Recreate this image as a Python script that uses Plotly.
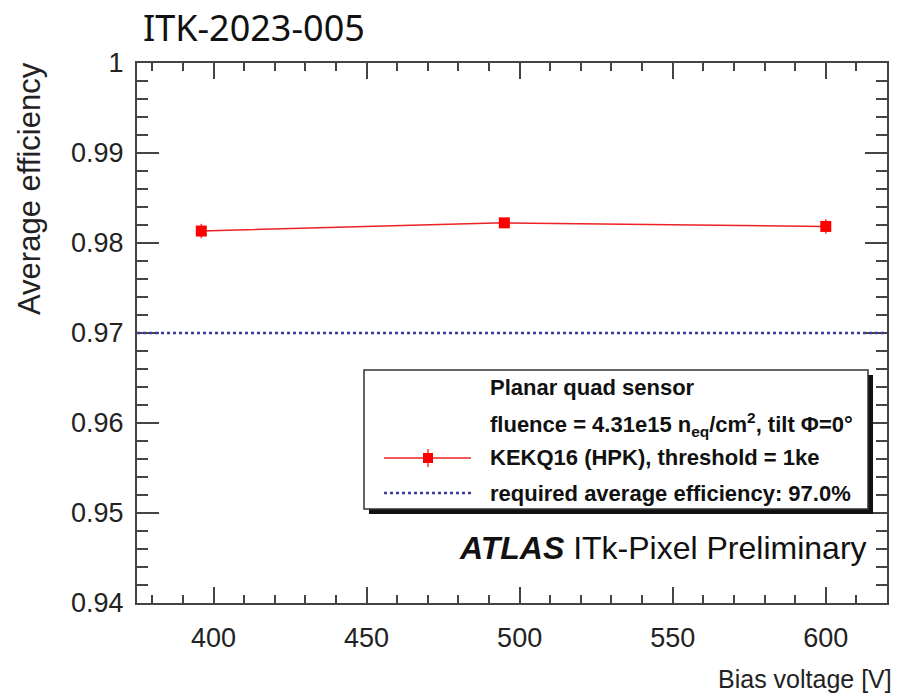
import plotly.graph_objects as go

# ---- data ----
bias_voltage = [396, 495, 600]
avg_efficiency = [0.98133, 0.98224, 0.98184]
eff_error = [0.0008, 0.0005, 0.0008]
required_eff = 0.97

y_tickvals = [0.94, 0.95, 0.96, 0.97, 0.98, 0.99, 1.0]
y_ticktext = ["0.94", "0.95", "0.96", "0.97", "0.98", "0.99", "1"]
x_tickvals = [400, 450, 500, 550, 600]
x_ticktext = ["400", "450", "500", "550", "600"]

FONT = "Liberation Sans, Arial, Helvetica, sans-serif"
W, H = 900, 699
ML, MR, MT, MB = 137, 13, 63, 96
PW, PH = W - ML - MR, H - MT - MB


def px(x):
    return (x - ML) / PW


def py(y):
    return (H - MB - y) / PH


fig = go.Figure()

fig.add_trace(go.Scatter(
    x=bias_voltage, y=avg_efficiency,
    mode="lines+markers",
    line=dict(color="#ee2222", width=1.5),
    marker=dict(symbol="square", size=11, color="#ff0000"),
    error_y=dict(type="data", array=eff_error, color="#ff3333", thickness=1.5, width=0),
    showlegend=False,
))

# required efficiency line
fig.add_shape(type="line", xref="paper", x0=0, x1=1, yref="y", y0=required_eff, y1=required_eff,
              line=dict(color="#3a3aa0", width=2.5, dash="dot"), layer="above")

axis_common = dict(
    showgrid=False, zeroline=False, showline=True, linecolor="#444444", linewidth=2,
    mirror="allticks", ticks="inside", tickcolor="#444444", tickwidth=2,
    tickfont=dict(family=FONT, size=27, color="#222222"),
)

fig.update_xaxes(
    range=[375, 620], tickvals=x_tickvals, ticktext=x_ticktext, ticklen=16,
    minor=dict(dtick=10, tick0=0, ticks="inside", ticklen=8, tickcolor="#444444", tickwidth=2),
    ticklabelstandoff=10,
    **axis_common,
)
fig.update_yaxes(
    range=[0.94, 1.0], tickvals=y_tickvals, ticktext=y_ticktext, ticklen=22,
    minor=dict(dtick=0.002, tick0=0.94, ticks="inside", ticklen=11, tickcolor="#444444", tickwidth=2),
    ticklabelstandoff=6,
    **axis_common,
)

# ---- legend (manual, ROOT style) ----
bx0, bx1, by0, by1 = 364, 868, 370, 509
fig.add_shape(type="rect", xref="paper", yref="paper",
              x0=px(bx0 + 5), x1=px(bx1 + 5), y0=py(by1 + 5), y1=py(by0 + 5),
              fillcolor="#111111", line=dict(width=0), layer="above")
fig.add_shape(type="rect", xref="paper", yref="paper",
              x0=px(bx0), x1=px(bx1), y0=py(by1), y1=py(by0),
              fillcolor="white", line=dict(color="#333333", width=1.5), layer="above")

# legend symbols
fig.add_shape(type="line", xref="paper", yref="paper", x0=px(384), x1=px(471), y0=py(458), y1=py(458),
              line=dict(color="#ee2222", width=1.5), layer="above")
fig.add_shape(type="line", xref="paper", yref="paper", x0=px(428), x1=px(428), y0=py(449), y1=py(467),
              line=dict(color="#ff3333", width=1.5), layer="above")
fig.add_shape(type="rect", xref="paper", yref="paper", x0=px(423), x1=px(433), y0=py(463), y1=py(453),
              fillcolor="#ff0000", line=dict(width=0), layer="above")
fig.add_shape(type="line", xref="paper", yref="paper", x0=px(384), x1=px(471), y0=py(493), y1=py(493),
              line=dict(color="#3a3aa0", width=2.5, dash="dot"), layer="above")

leg_lines = [
    ("<b>Planar quad sensor</b>", 387),
    ("<b>fluence = 4.31e15 n<sub>eq</sub>/cm<sup>2</sup>, tilt Φ=0°</b>", 424),
    ("<b>KEKQ16 (HPK), threshold = 1ke</b>", 458),
    ("<b>required average efficiency: 97.0%</b>", 493),
]
for txt, yy in leg_lines:
    fig.add_annotation(text=txt, xref="paper", yref="paper", x=px(488), y=py(yy),
                       xanchor="left", yanchor="middle", showarrow=False,
                       font=dict(family=FONT, size=22, color="#111111"))

fig.add_annotation(text="<b><i>ATLAS</i></b> ITk-Pixel Preliminary", xref="paper", yref="paper",
                   x=px(869), y=py(548), xanchor="right", yanchor="middle", showarrow=False,
                   font=dict(family=FONT, size=32, color="#111111"))

# axis titles
fig.add_annotation(text="Average efficiency", xref="paper", yref="paper",
                   x=px(30), y=py(189), xanchor="center", yanchor="middle", textangle=-90,
                   showarrow=False, font=dict(family=FONT, size=31, color="#222222"))
fig.add_annotation(text="Bias voltage [V]", xref="paper", yref="paper",
                   x=px(894), y=py(679), xanchor="right", yanchor="middle",
                   showarrow=False, font=dict(family=FONT, size=25, color="#222222"))

# header
fig.add_annotation(text="ITK-2023-005", xref="paper", yref="paper",
                   x=px(141), y=py(27), xanchor="left", yanchor="middle",
                   showarrow=False, font=dict(family="Noto Sans, Open Sans, sans-serif", size=36, color="#111111"))

fig.update_layout(
    width=W, height=H,
    margin=dict(l=ML, r=MR, t=MT, b=MB),
    paper_bgcolor="white", plot_bgcolor="white",
    showlegend=False,
)

fig.write_html("out.html")
